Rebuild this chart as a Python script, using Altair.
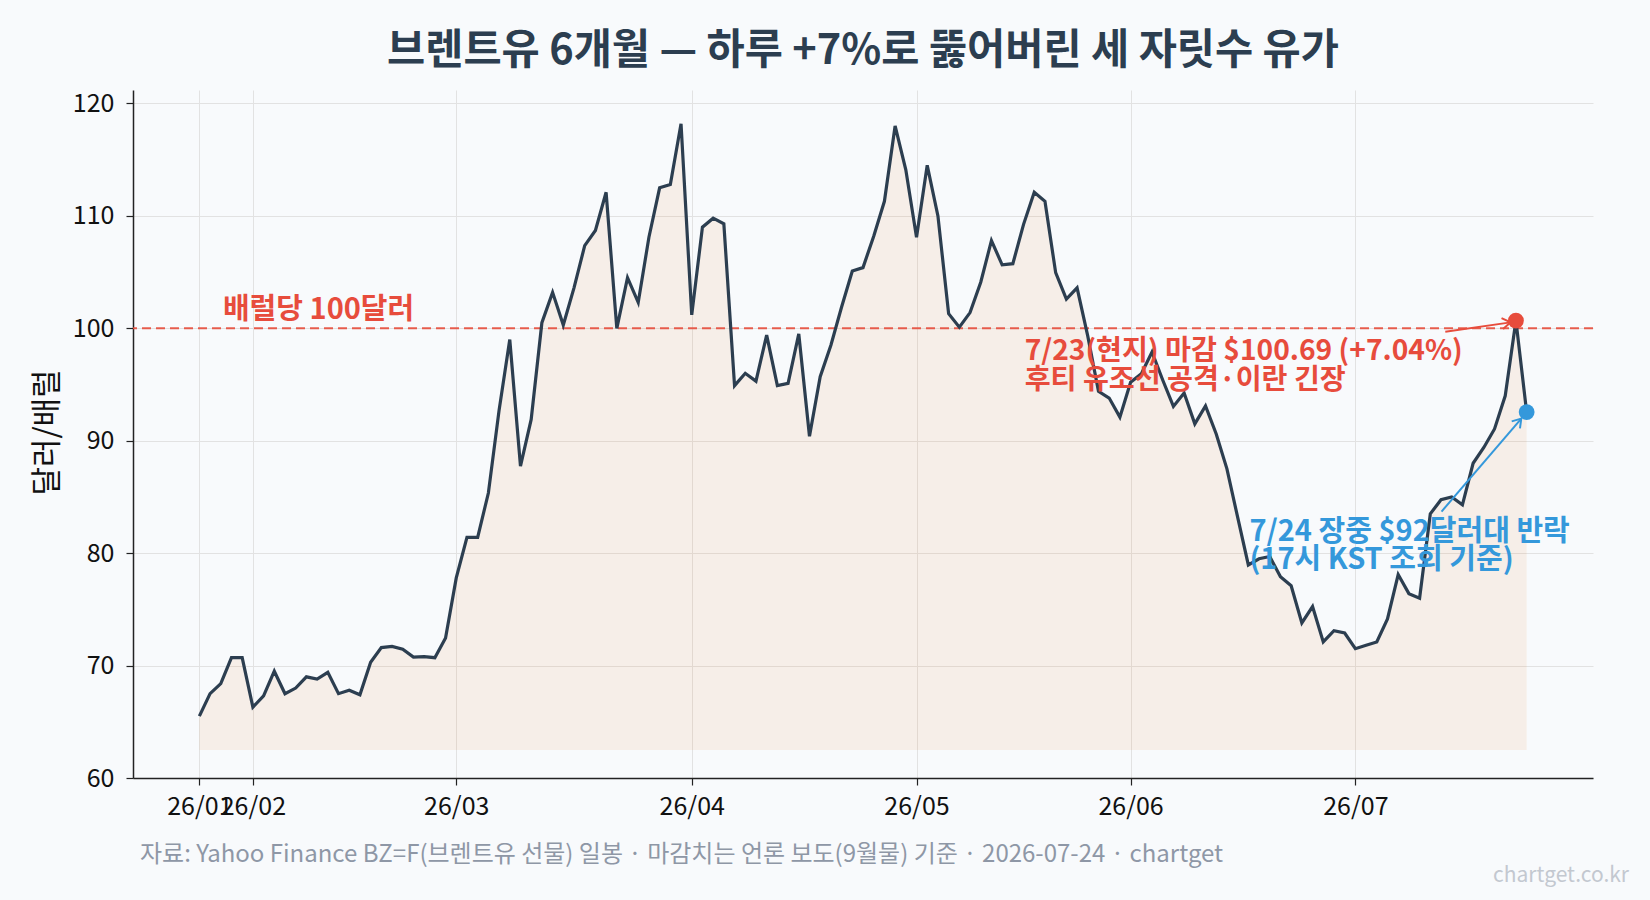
import math
import altair as alt
import pandas as pd

# ---------------- data ----------------
prices = [65.5, 67.5, 68.4, 70.7, 70.7, 66.3, 67.3, 69.5, 67.5, 68.0,
          69.0, 68.8, 69.4, 67.5, 67.8, 67.4, 70.3, 71.6, 71.7, 71.45,
          70.75, 70.8, 70.7, 72.45, 77.8, 81.4, 81.4, 85.35, 92.7, 99.0,
          87.75, 91.9, 100.5, 103.2, 100.3, 103.6, 107.35, 108.7, 112.1, 100.0,
          104.5, 102.3, 108.1, 112.5, 112.8, 118.2, 101.2, 109.0, 109.8, 109.3,
          94.9, 96.0, 95.3, 99.4, 94.9, 95.1, 99.5, 90.4, 95.7, 98.5,
          101.9, 105.1, 105.4, 108.2, 111.3, 118.0, 114.1, 108.1, 114.5, 110.0,
          101.3, 100.1, 101.4, 104.1, 107.8, 105.65, 105.75, 109.25, 112.1, 111.3,
          104.95, 102.6, 103.6, 99.3, 94.4, 93.8, 92.1, 95.2, 95.95, 97.9,
          95.4, 93.05, 94.25, 91.5, 93.1, 90.6, 87.5, 83.2, 78.95, 79.5,
          79.7, 77.9, 77.1, 73.8, 75.25, 72.1, 73.1, 72.9, 71.5, 71.8,
          72.1, 74.15, 78.1, 76.4, 76.0, 83.5, 84.75, 85.0, 84.3, 88.0,
          89.4, 91.05, 94.0, 100.69, 92.55]

tick_idx = [0, 5, 24, 46, 67, 87, 108]
tick_labels = ["26/01", "26/02", "26/03", "26/04", "26/05", "26/06", "26/07"]
y_ticks = [60, 70, 80, 90, 100, 110, 120]

threshold = 100
threshold_label = "배럴당 100달러"
close_idx, close_val = 123, 100.69
live_idx, live_val = 124, 92.55
red_lines = ["7/23(현지) 마감 $100.69 (+7.04%)", "후티 유조선 공격·이란 긴장"]
blue_lines = ["7/24 장중 $92달러대 반락", "(17시 KST 조회 기준)"]

title_text = "브렌트유 6개월 — 하루 +7%로 뚫어버린 세 자릿수 유가"
y_title = "달러/배럴"
footer_text = "자료: Yahoo Finance BZ=F(브렌트유 선물) 일봉 · 마감치는 언론 보도(9월물) 기준 · 2026-07-24 · chartget"
watermark_text = "chartget.co.kr"

# ---------------- layout / style ----------------
FONT = "Noto Sans CJK KR"
W, H = 1460, 688
PAD_L, PAD_T = 133, 90
XMIN, XMAX = -6.2, 130.2
YMIN, YMAX = 60, 121.2
FILL_BASE = 62.5
RED = "#e74c3c"
BLUE = "#3498db"
NAVY = "#2c3e50"
BG = "#f8fafc"

sx = W / (XMAX - XMIN)
sy = H / (YMAX - YMIN)

xscale = alt.Scale(domain=[XMIN, XMAX], nice=False, zero=False)
yscale = alt.Scale(domain=[YMIN, YMAX], nice=False, zero=False)

expr = "''"
for v, lab in reversed(list(zip(tick_idx, tick_labels))):
    expr = f"datum.value == {v} ? '{lab}' : ({expr})"

xaxis = alt.Axis(values=tick_idx, labelExpr=expr, title=None, grid=True,
                 gridColor="#e2e2e2", gridWidth=1, tickSize=7, tickWidth=1.2,
                 tickColor="#222222", domainColor="#222222", domainWidth=1.5,
                 labelFont=FONT, labelFontSize=25, labelColor="#111111",
                 labelPadding=9, labelOverlap=False, labelFlush=False)
yaxis = alt.Axis(values=y_ticks, title=y_title, grid=True, gridColor="#e2e2e2",
                 gridWidth=1, tickSize=7, tickWidth=1.2, tickColor="#222222",
                 domainColor="#222222", domainWidth=1.5, labelFont=FONT,
                 labelFontSize=25, labelColor="#111111", labelPadding=12,
                 titleFont=FONT, titleFontSize=31, titleFontWeight="normal",
                 titleColor="#111111", titleX=-86, titleY=342,
                 titleAlign="center", titleBaseline="middle", titleAngle=270)


def X(field):
    return alt.X(field, scale=xscale, axis=xaxis)


def Y(field):
    return alt.Y(field, scale=yscale, axis=yaxis)


df = pd.DataFrame({"i": list(range(len(prices))), "price": prices,
                   "base": [FILL_BASE] * len(prices)})

area = alt.Chart(df).mark_area(color="#e67e22", opacity=0.09).encode(
    x=X("i:Q"), y=Y("price:Q"), y2="base:Q")

thr = alt.Chart(pd.DataFrame({"y": [threshold]})).mark_rule(
    color=RED, strokeDash=[9, 5], strokeWidth=2, opacity=0.9
).encode(y=Y("y:Q"))

line = alt.Chart(df).mark_line(color=NAVY, strokeWidth=3.2).encode(
    x=X("i:Q"), y=Y("price:Q"))

# arrows (start -> tip), data units
arrows = [
    {"x": 116.4, "y": 99.7, "x2": 122.5, "y2": 100.53, "c": RED},
    {"x": 116.05, "y": 83.7, "x2": 123.5, "y2": 91.97, "c": BLUE},
]
for a in arrows:
    ang = math.degrees(math.atan2(-(a["y2"] - a["y"]) * sy, (a["x2"] - a["x"]) * sx))
    a["ang"] = ang % 360
adf = pd.DataFrame(arrows)

shafts = alt.Chart(adf).mark_rule(strokeWidth=2).encode(
    x=X("x:Q"), y=Y("y:Q"), x2="x2:Q", y2="y2:Q", color=alt.Color("c:N", scale=None))
heads = alt.Chart(adf).mark_point(
    shape="M -1 -0.65 L 0 0 L -1 0.65", filled=False, strokeWidth=2, size=280, opacity=1
).encode(
    x=X("x2:Q"), y=Y("y2:Q"),
    angle=alt.Angle("ang:Q", scale=None), color=alt.Color("c:N", scale=None))

dots = alt.Chart(pd.DataFrame({"x": [close_idx, live_idx], "y": [close_val, live_val],
                               "c": [RED, BLUE]})).mark_circle(size=250, opacity=1).encode(
    x=X("x:Q"), y=Y("y:Q"), color=alt.Color("c:N", scale=None))

ann = pd.DataFrame({
    "x": [2.2, 77.1, 77.1, 98.1, 98.1],
    "y": [101.65, 97.9, 95.35, 81.85, 79.4],
    "t": [threshold_label] + red_lines + blue_lines,
    "c": [RED, RED, RED, BLUE, BLUE],
    "s": [29, 28.2, 28.2, 29, 29],
})
texts = alt.Chart(ann).mark_text(align="left", baseline="middle", font=FONT,
                                 fontWeight="bold").encode(
    x=X("x:Q"), y=Y("y:Q"),
    text="t:N", color=alt.Color("c:N", scale=None), size=alt.Size("s:Q", scale=None))

one = pd.DataFrame({"k": [0]})
title = alt.Chart(one).mark_text(font=FONT, fontSize=41.5, fontWeight="bold", color=NAVY,
                                 align="center", baseline="middle").encode(
    x=alt.value(W / 2), y=alt.value(52 - PAD_T), text=alt.value(title_text))
footer = alt.Chart(one).mark_text(font=FONT, fontSize=24, color="#8e97a6",
                                  align="left", baseline="middle").encode(
    x=alt.value(140 - PAD_L), y=alt.value(855 - PAD_T), text=alt.value(footer_text))
wm = alt.Chart(one).mark_text(font=FONT, fontSize=21, color="#c3c8d0",
                              align="right", baseline="middle").encode(
    x=alt.value(1629 - PAD_L), y=alt.value(876 - PAD_T), text=alt.value(watermark_text))

chart = alt.layer(area, thr, line, shafts, heads, dots, texts, title, footer, wm).properties(
    width=W, height=H,
    autosize=alt.AutoSizeParams(type="none"),
    padding={"left": PAD_L, "top": PAD_T, "right": 1650 - PAD_L - W, "bottom": 900 - PAD_T - H},
    background=BG,
).configure_view(strokeWidth=0)

chart.save("out.html", embed_options={"renderer": "svg", "actions": False})
